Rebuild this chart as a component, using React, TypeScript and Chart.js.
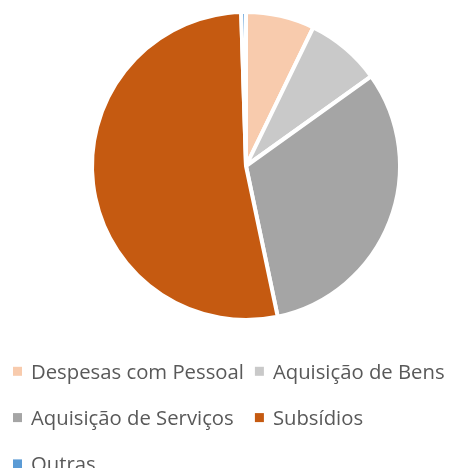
import React, { useEffect, useRef } from "react";
import { Chart, registerables } from "chart.js";

Chart.register(...registerables);

// ---- Data ----
const categories = [
  "Despesas com Pessoal",
  "Aquisição de Bens",
  "Aquisição de Serviços",
  "Subsídios",
  "Outras",
];
const values = [7.2, 7.9, 31.6, 52.8, 0.5];
const sliceColors = ["#F8CBAD", "#C9C9C9", "#A5A5A5", "#C55A11", "#5B9BD5"];

const FONT_FAMILY = "'Open Sans'";

const columnLegend = {
  id: "columnLegend",
  afterDraw(chart: any, _args: any, opts: any) {
    const ctx = chart.ctx as CanvasRenderingContext2D;
    const labels = chart.data.labels as string[];
    const bg = chart.data.datasets[0].backgroundColor as string[];
    ctx.save();
    ctx.font = `${opts.fontSize}px ${opts.fontFamily}`;
    const cols = opts.columns;
    const colWidths: number[] = [];
    labels.forEach((t, i) => {
      const c = i % cols;
      const w = opts.textOffset + ctx.measureText(t).width;
      colWidths[c] = Math.max(colWidths[c] || 0, w);
    });
    const colX: number[] = [opts.x];
    for (let c = 1; c < cols; c++) colX[c] = colX[c - 1] + colWidths[c - 1] + opts.colGap;
    labels.forEach((t, i) => {
      const c = i % cols;
      const r = Math.floor(i / cols);
      const cy = opts.y + r * opts.rowGap;
      ctx.fillStyle = bg[i];
      ctx.fillRect(colX[c], cy - opts.box / 2, opts.box, opts.box);
      ctx.fillStyle = opts.color;
      ctx.textBaseline = "alphabetic";
      ctx.textAlign = "left";
      ctx.fillText(t, colX[c] + opts.textOffset, cy + opts.capHalf);
    });
    ctx.restore();
  },
};

export default function App() {
  const ref = useRef<HTMLCanvasElement | null>(null);
  useEffect(() => {
    if (!ref.current) return;
    const chart = new Chart(ref.current, {
      type: "pie",
      data: {
        labels: categories,
        datasets: [
          {
            data: values,
            backgroundColor: sliceColors,
            borderColor: "#ffffff",
            borderWidth: 4,
          },
        ],
      },
      options: {
        responsive: false,
        animation: false,
        devicePixelRatio: 1,
        radius: 154,
        layout: { padding: { left: 42, right: 0, top: 10, bottom: 146 } },
        plugins: {
          legend: { display: false },
          tooltip: { enabled: false },
          columnLegend: {
            x: 13,
            y: 371.3,
            rowGap: 46.3,
            columns: 2,
            box: 9,
            textOffset: 18,
            colGap: 11,
            capHalf: 7.2,
            fontSize: 20.3,
            fontFamily: FONT_FAMILY,
            color: "#595959",
          },
        } as any,
      } as any,
      plugins: [columnLegend],
    });
    const fonts = (document as any).fonts;
    if (fonts && fonts.load) {
      fonts.load(`20px ${FONT_FAMILY}`).then(() => chart.draw()).catch(() => {});
    }
    return () => chart.destroy();
  }, []);
  return (
    <div style={{ position: "absolute", left: 0, top: 0, width: 450, height: 468 }}>
      <canvas ref={ref} width={450} height={468} style={{ width: 450, height: 468 }} />
    </div>
  );
}
